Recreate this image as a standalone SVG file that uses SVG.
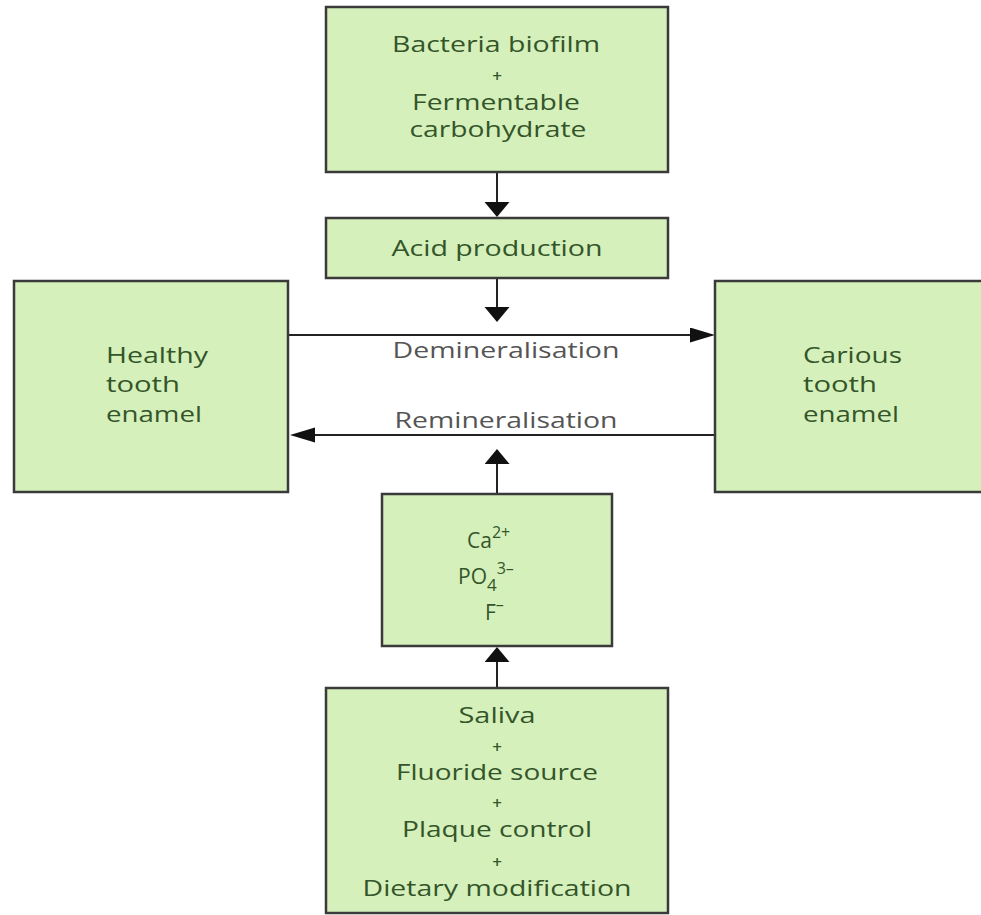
<svg xmlns="http://www.w3.org/2000/svg" width="981" height="915" viewBox="0 0 981 915">
<defs>
<style>
.box{fill:#d5f0ba;stroke:#3a3a3a;stroke-width:2.5}
.t{font-family:"Open Sans","Noto Sans","Liberation Sans",sans-serif;font-size:21px;font-weight:500;fill:#34552a;text-anchor:middle}
.tl{font-family:"Open Sans","Noto Sans","Liberation Sans",sans-serif;font-size:21px;font-weight:500;fill:#34552a}
.p{font-family:"Open Sans","Noto Sans","Liberation Sans",sans-serif;font-size:17px;font-weight:600;fill:#34552a;text-anchor:middle}
.lbl{font-family:"Open Sans","Noto Sans","Liberation Sans",sans-serif;font-size:21px;font-weight:500;fill:#555;text-anchor:middle}
.c{fill:none;stroke:#222;stroke-width:2}
</style>
<marker id="av" markerUnits="userSpaceOnUse" markerWidth="16" markerHeight="26" refX="0" refY="12.5" orient="auto"><path d="M0,0 L15,12.5 L0,25 Z" fill="#111"/></marker>
<marker id="ah" markerUnits="userSpaceOnUse" markerWidth="26" markerHeight="16" refX="0" refY="7.5" orient="auto"><path d="M0,0 L25,7.5 L0,15 Z" fill="#111"/></marker>
</defs>
<rect width="981" height="915" fill="#fff"/>
<g id="connectors">
<path class="c" d="M497,172 V202" marker-end="url(#av)"/>
<path class="c" d="M497,278 V307" marker-end="url(#av)"/>
<path class="c" d="M288,335 H690" marker-end="url(#ah)"/>
<path class="c" d="M715,435 H315" marker-end="url(#ah)"/>
<path class="c" d="M497,494 V464" marker-end="url(#av)"/>
<path class="c" d="M497,688 V662" marker-end="url(#av)"/>
<text class="lbl" x="506" y="358" textLength="227" lengthAdjust="spacingAndGlyphs">Demineralisation</text>
<text class="lbl" x="506" y="428" textLength="223" lengthAdjust="spacingAndGlyphs">Remineralisation</text>
</g>
<g id="bacteria">
<rect class="box" x="326" y="7" width="342" height="165"/>
<text class="t" x="496" y="52" textLength="208" lengthAdjust="spacingAndGlyphs">Bacteria biofilm</text>
<text class="p" x="497" y="82">+</text>
<text class="t" x="496" y="110" textLength="168" lengthAdjust="spacingAndGlyphs">Fermentable</text>
<text class="t" x="498" y="137" textLength="177" lengthAdjust="spacingAndGlyphs">carbohydrate</text>
</g>
<g id="acid">
<rect class="box" x="326" y="218" width="342" height="60"/>
<text class="t" x="497" y="256" textLength="211" lengthAdjust="spacingAndGlyphs">Acid production</text>
</g>
<g id="healthy">
<rect class="box" x="14" y="281" width="274" height="211"/>
<text class="tl" x="106" y="363" textLength="102" lengthAdjust="spacingAndGlyphs">Healthy</text>
<text class="tl" x="106" y="392" textLength="74" lengthAdjust="spacingAndGlyphs">tooth</text>
<text class="tl" x="106" y="422" textLength="96" lengthAdjust="spacingAndGlyphs">enamel</text>
</g>
<g id="carious">
<rect class="box" x="715" y="281" width="270" height="211"/>
<text class="tl" x="803" y="363" textLength="99" lengthAdjust="spacingAndGlyphs">Carious</text>
<text class="tl" x="803" y="392" textLength="74" lengthAdjust="spacingAndGlyphs">tooth</text>
<text class="tl" x="803" y="422" textLength="96" lengthAdjust="spacingAndGlyphs">enamel</text>
</g>
<g id="ions">
<rect class="box" x="382" y="494" width="230" height="152"/>
<text class="tl" x="467" y="548" font-size="23">Ca<tspan font-size="16" dy="-10">2+</tspan></text>
<text class="tl" x="458" y="584" font-size="23">PO<tspan font-size="17" dy="7">4</tspan><tspan font-size="16" dy="-17">3–</tspan></text>
<text class="tl" x="485" y="620" font-size="23">F<tspan font-size="16" dy="-10">–</tspan></text>
</g>
<g id="saliva">
<rect class="box" x="326" y="688" width="342" height="225"/>
<text class="t" x="497" y="723" textLength="77" lengthAdjust="spacingAndGlyphs">Saliva</text>
<text class="p" x="497" y="753">+</text>
<text class="t" x="497" y="780" textLength="202" lengthAdjust="spacingAndGlyphs">Fluoride source</text>
<text class="p" x="497" y="809">+</text>
<text class="t" x="497" y="837" textLength="190" lengthAdjust="spacingAndGlyphs">Plaque control</text>
<text class="p" x="497" y="868">+</text>
<text class="t" x="497" y="896" textLength="269" lengthAdjust="spacingAndGlyphs">Dietary modification</text>
</g>
</svg>
